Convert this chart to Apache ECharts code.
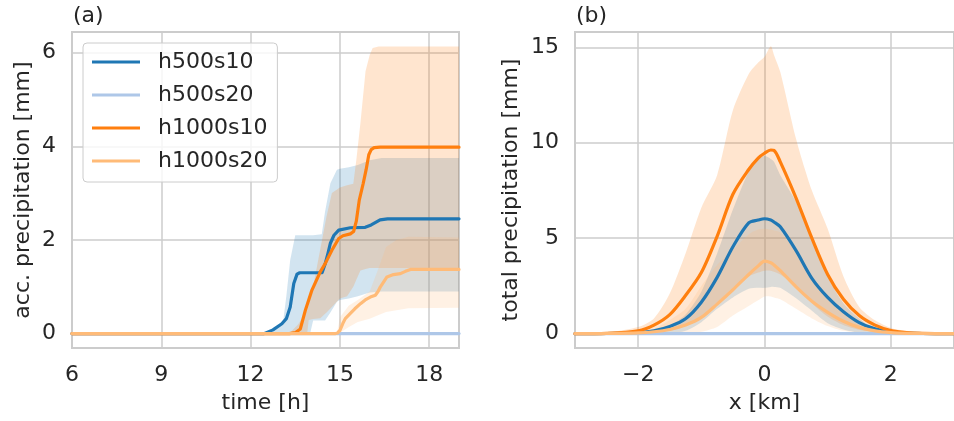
<!DOCTYPE html>
<html><head><meta charset="utf-8">
<script src="https://cdn.jsdelivr.net/npm/echarts@6/dist/echarts.min.js"></script>
<style>html,body{margin:0;padding:0;background:#fff}#c{width:954px;height:421px}</style>
</head><body><div id="c"></div>
<script>
// ---------- names / colours ----------
const seriesNames = ['h500s10', 'h500s20', 'h1000s10', 'h1000s20'];
const seriesColors = ['#1f77b4', '#aec7e8', '#ff7f0e', '#ffbb78'];

// ---------- panel (a): accumulated precipitation vs time ----------
const aXTicks = [6, 9, 12, 15, 18];
const aYTicks = [0, 2, 4, 6];

const aT_h500s10 = [6, 12.45, 12.75, 13.05, 13.2, 13.33, 13.45, 13.56, 13.65, 14.4, 14.5, 14.6, 14.68, 14.8, 14.96, 15.35, 15.85, 16.05, 16.35, 16.6, 19];
const aV_h500s10 = [0, 0, 0.08, 0.21, 0.32, 0.57, 1.07, 1.27, 1.3, 1.3, 1.48, 1.72, 1.93, 2.1, 2.21, 2.26, 2.27, 2.32, 2.43, 2.45, 2.45];
const aT_h500s20 = [6, 19];
const aV_h500s20 = [0, 0];
const aT_h1000s10 = [6, 13.3, 13.5, 13.67, 13.84, 14.06, 14.34, 14.51, 14.73, 14.96, 15.1, 15.35, 15.46, 15.55, 15.65, 15.78, 15.88, 15.97, 16.05, 16.15, 16.35, 19];
const aV_h1000s10 = [0, 0, 0.02, 0.1, 0.5, 0.93, 1.32, 1.5, 1.78, 2.03, 2.09, 2.13, 2.18, 2.4, 2.85, 3.2, 3.5, 3.82, 3.93, 3.97, 3.98, 3.98];
const aT_h1000s20 = [6, 14.85, 14.93, 15.0, 15.1, 15.18, 15.35, 15.5, 15.69, 15.85, 16.02, 16.19, 16.28, 16.36, 16.58, 16.8, 17.03, 17.2, 17.37, 19];
const aV_h1000s20 = [0, 0, 0.02, 0.07, 0.22, 0.32, 0.43, 0.53, 0.64, 0.72, 0.78, 0.82, 0.9, 1.0, 1.21, 1.26, 1.28, 1.33, 1.37, 1.37];

// bands (lower / upper)
const aBandT_h500s10 = [6, 12.55, 12.8, 13.1, 13.2, 13.33, 13.5, 14.0, 14.1, 14.39, 14.5, 14.68, 14.9, 15.0, 15.3, 15.6, 16.0, 16.4, 19];
const aBandHi_h500s10 = [0, 0, 0.1, 0.29, 0.8, 1.57, 2.1, 2.1, 2.1, 2.12, 2.6, 3.21, 3.5, 3.52, 3.55, 3.6, 3.7, 3.75, 3.75];
const aBandLo_h500s10 = [0, 0, 0, 0, 0, 0, 0, 0, 0.28, 0.28, 0.28, 0.45, 0.68, 0.72, 0.75, 0.8, 0.88, 0.9, 0.9];
const aBandT_h1000s10 = [6, 13.3, 13.6, 13.9, 13.95, 14.1, 14.34, 14.55, 14.73, 15.0, 15.24, 15.45, 15.55, 15.69, 15.86, 16.0, 16.1, 16.3, 19];
const aBandHi_h1000s10 = [0, 0, 0.2, 0.5, 0.6, 1.0, 1.8, 2.5, 3.0, 3.12, 3.17, 3.2, 3.7, 4.5, 5.6, 5.95, 6.1, 6.13, 6.13];
const aBandLo_h1000s10 = [0, 0, 0, 0, 0.29, 0.31, 0.33, 0.45, 0.57, 0.75, 0.8, 1.0, 1.15, 1.35, 1.38, 1.4, 1.4, 1.4, 1.4];
const aBandT_h1000s20 = [6, 14.9, 15.0, 15.3, 15.6, 16.0, 16.3, 16.55, 16.9, 17.3, 19];
const aBandHi_h1000s20 = [0, 0, 0.35, 0.6, 0.72, 0.9, 1.4, 1.85, 2.0, 2.07, 2.05];
const aBandLo_h1000s20 = [0, 0, 0.02, 0.14, 0.25, 0.32, 0.4, 0.46, 0.5, 0.54, 0.55];

// ---------- panel (b): total precipitation vs x ----------
const bXTicks = [-2, 0, 2];
const bYTicks = [0, 5, 10, 15];
const bX = [-3, -2.5, -2, -1.75, -1.5, -1.25, -1, -0.75, -0.5, -0.25, -0.1, 0, 0.1, 0.15, 0.25, 0.5, 0.75, 1, 1.25, 1.5, 1.75, 2, 2.25, 2.5, 3];
const bV_h500s10  = [0, 0.01, 0.06, 0.15, 0.38, 0.78, 1.65, 2.95, 4.55, 5.8, 5.95, 6.02, 5.95, 5.85, 5.6, 4.35, 2.9, 1.9, 1.15, 0.58, 0.25, 0.08, 0.03, 0.01, 0];
const bV_h500s20  = [0, 0, 0, 0, 0, 0, 0, 0, 0, 0, 0, 0, 0, 0, 0, 0, 0, 0, 0, 0, 0, 0, 0, 0, 0];
const bV_h1000s10 = [0, 0.02, 0.15, 0.45, 1.0, 2.0, 3.2, 5.1, 7.3, 8.6, 9.2, 9.45, 9.62, 9.6, 9.0, 7.1, 5.0, 3.1, 1.8, 0.95, 0.45, 0.17, 0.06, 0.02, 0];
const bV_h1000s20 = [0, 0.01, 0.04, 0.1, 0.22, 0.45, 0.85, 1.55, 2.3, 3.1, 3.55, 3.8, 3.72, 3.6, 3.3, 2.45, 1.7, 1.12, 0.65, 0.33, 0.15, 0.06, 0.02, 0.01, 0];

const bBandHi_h500s10  = [0, 0.01, 0.05, 0.15, 0.4, 1.0, 2.2, 4.2, 6.5, 8.5, 9.15, 9.3, 9.15, 9.0, 8.3, 6.9, 5.0, 3.0, 1.6, 0.8, 0.2, 0.06, 0.02, 0.01, 0];
const bBandLo_h500s10  = [0, 0, 0, 0, 0.02, 0.15, 0.6, 1.3, 1.9, 2.35, 2.4, 2.4, 2.45, 2.45, 2.4, 1.85, 1.2, 0.55, 0.22, 0.05, 0.01, 0, 0, 0, 0];
const bBandHi_h1000s10 = [0, 0.06, 0.35, 0.8, 2.1, 4.2, 6.6, 8.3, 11.7, 13.6, 14.2, 14.5, 15.05, 14.6, 13.7, 10.2, 7.5, 5.5, 3.0, 1.4, 0.7, 0.3, 0.15, 0.08, 0.01];
const bBandLo_h1000s10 = [0, 0, 0.02, 0.05, 0.15, 0.4, 0.8, 1.6, 2.4, 3.0, 3.2, 3.3, 3.3, 3.25, 3.1, 2.5, 1.6, 0.9, 0.45, 0.2, 0.08, 0.03, 0.01, 0, 0];
const bBandHi_h1000s20 = [0, 0.01, 0.05, 0.25, 0.7, 1.3, 2.5, 3.6, 4.4, 5.2, 5.45, 5.5, 5.45, 5.4, 5.3, 4.3, 3.0, 1.9, 1.05, 0.5, 0.22, 0.08, 0.03, 0.01, 0];
const bBandLo_h1000s20 = [0, 0, 0, 0, 0.01, 0.03, 0.1, 0.35, 0.95, 1.45, 1.75, 1.95, 1.95, 1.9, 1.8, 1.3, 0.8, 0.4, 0.15, 0.05, 0.01, 0, 0, 0, 0];

// ---------- helpers ----------
const FONT = 'DejaVu Sans';
const TXT = '#262626';
const GRIDC = '#cccccc';
const pairs = (xs, ys) => xs.map((x, i) => [x, ys[i]]);

function lineSeries(name, idx, xs, ys, color, smooth) {
  return {
    name, type: 'line', xAxisIndex: idx, yAxisIndex: idx, data: pairs(xs, ys),
    showSymbol: false, symbol: 'none', z: 3, silent: true,
    smooth: smooth || false,
    lineStyle: { color, width: 3.2, cap: 'round', join: 'round' }, itemStyle: { color }
  };
}
function bandSeries(idx, xs, lo, hi, color, smooth) {
  return {
    type: 'custom', coordinateSystem: 'cartesian2d', xAxisIndex: idx, yAxisIndex: idx,
    z: 2, silent: true, clip: true,
    data: pairs(xs, hi),
    renderItem: (params, api) => {
      if (params.dataIndex !== 0) return null;
      const up = [], dn = [];
      for (let i = 0; i < xs.length; i++) up.push(api.coord([xs[i], hi[i]]));
      for (let i = xs.length - 1; i >= 0; i--) dn.push(api.coord([xs[i], lo[i]]));
      return {
        type: 'polygon',
        shape: { points: up.concat(dn), smooth: smooth || 0 },
        style: { fill: color, opacity: 0.2 }
      };
    }
  };
}
function xAxisCfg(idx, min, max, ticks, name) {
  return {
    type: 'value', gridIndex: idx, min, max, name, nameLocation: 'middle', nameGap: 44,
    nameTextStyle: { fontSize: 22, color: TXT, fontFamily: FONT },
    axisLine: { show: false }, axisTick: { show: false, customValues: ticks },
    axisLabel: { customValues: ticks, fontSize: 22, color: TXT, fontFamily: FONT, margin: 16,
      formatter: v => String(v).replace('-', '\u2212') },
    splitLine: { show: true, lineStyle: { color: GRIDC, width: 1.5 } }
  };
}
function yAxisCfg(idx, min, max, ticks, name, gap) {
  return {
    type: 'value', gridIndex: idx, min, max, name, nameLocation: 'middle', nameGap: gap,
    nameTextStyle: { fontSize: 22, color: TXT, fontFamily: FONT },
    axisLine: { show: false }, axisTick: { show: false, customValues: ticks },
    axisLabel: { customValues: ticks, fontSize: 22, color: TXT, fontFamily: FONT, margin: 16 },
    splitLine: { show: true, lineStyle: { color: GRIDC, width: 1.5 } }
  };
}

const series = [
  bandSeries(0, aBandT_h500s10, aBandLo_h500s10, aBandHi_h500s10, seriesColors[0]),
  bandSeries(0, aBandT_h1000s10, aBandLo_h1000s10, aBandHi_h1000s10, seriesColors[2]),
  bandSeries(0, aBandT_h1000s20, aBandLo_h1000s20, aBandHi_h1000s20, seriesColors[3]),
  lineSeries(seriesNames[0], 0, aT_h500s10, aV_h500s10, seriesColors[0]),
  lineSeries(seriesNames[1], 0, aT_h500s20, aV_h500s20, seriesColors[1]),
  lineSeries(seriesNames[2], 0, aT_h1000s10, aV_h1000s10, seriesColors[2]),
  lineSeries(seriesNames[3], 0, aT_h1000s20, aV_h1000s20, seriesColors[3]),
  bandSeries(1, bX, bBandLo_h500s10, bBandHi_h500s10, seriesColors[0], 0.25),
  bandSeries(1, bX, bBandLo_h1000s10, bBandHi_h1000s10, seriesColors[2], 0.25),
  bandSeries(1, bX, bBandLo_h1000s20, bBandHi_h1000s20, seriesColors[3], 0.25),
  lineSeries(seriesNames[0], 1, bX, bV_h500s10, seriesColors[0], 0.3),
  lineSeries(seriesNames[1], 1, bX, bV_h500s20, seriesColors[1]),
  lineSeries(seriesNames[2], 1, bX, bV_h1000s10, seriesColors[2], 0.3),
  lineSeries(seriesNames[3], 1, bX, bV_h1000s20, seriesColors[3], 0.3)
];

const chart = echarts.init(document.getElementById('c'), null, { renderer: 'canvas' });
chart.setOption({
  animation: false,
  backgroundColor: '#ffffff',
  textStyle: { fontFamily: FONT },
  grid: [
    { left: 72, top: 32, width: 387, height: 316, show: true, borderColor: GRIDC, borderWidth: 2, backgroundColor: 'transparent' },
    { left: 575, top: 32, width: 386, height: 316, show: true, borderColor: GRIDC, borderWidth: 2, backgroundColor: 'transparent' }
  ],
  xAxis: [
    xAxisCfg(0, 6, 19, aXTicks, 'time [h]'),
    xAxisCfg(1, -3, 3, bXTicks, 'x [km]')
  ],
  yAxis: [
    yAxisCfg(0, -0.307, 6.44, aYTicks, 'acc. precipitation [mm]', 38),
    yAxisCfg(1, -0.75, 15.8, bYTicks, 'total precipitation [mm]', 53)
  ],
  title: [
    { text: '(a)', left: 68, top: 0, textStyle: { fontSize: 22, fontWeight: 'normal', color: TXT, fontFamily: FONT } },
    { text: '(b)', left: 571, top: 0, textStyle: { fontSize: 22, fontWeight: 'normal', color: TXT, fontFamily: FONT } }
  ],
  legend: {
    data: seriesNames, orient: 'vertical', left: 83, top: 43,
    icon: 'rect', itemWidth: 48, itemHeight: 3, itemGap: 11,
    padding: [8, 10, 10, 9], selectedMode: false,
    backgroundColor: 'rgba(255,255,255,0.8)', borderColor: GRIDC, borderWidth: 1, borderRadius: 4,
    textStyle: { fontSize: 22, lineHeight: 22, color: TXT, fontFamily: FONT, padding: [0, 0, 0, 13] }
  },
  series
});
</script>
</body></html>
